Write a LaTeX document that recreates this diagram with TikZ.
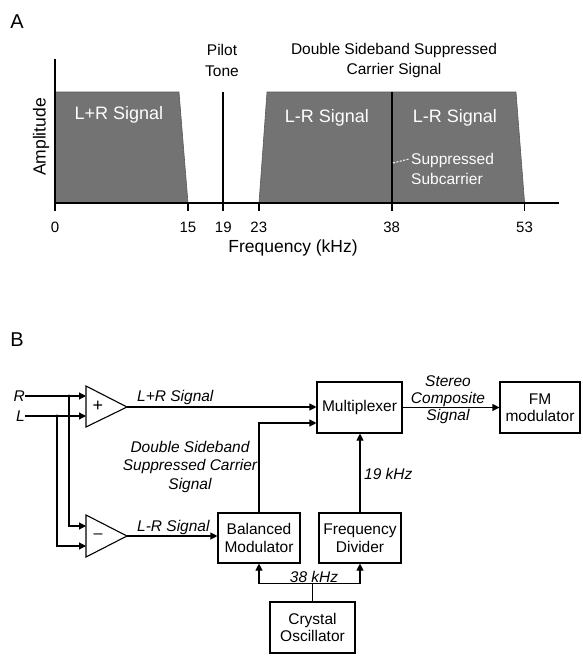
\documentclass[tikz,border=0pt]{standalone}
\usepackage{fontspec}
\setmainfont{Liberation Sans}
\usetikzlibrary{arrows.meta,calc}
\begin{document}
\begin{tikzpicture}[x=1pt,y=-1pt,
  lab/.style={inner sep=0pt, font=\fontsize{15.5}{17.5}\selectfont, align=center},
  ilab/.style={inner sep=0pt, font=\fontsize{15.5}{17.5}\selectfont\itshape, align=center},
  alab/.style={inner sep=0pt, font=\fontsize{15.5}{20.5}\selectfont, align=center},
  blabel/.style={inner sep=0pt, font=\fontsize{17.5}{20}\selectfont},
  ticklab/.style={inner sep=0pt, font=\fontsize{15}{17}\selectfont},
  wlab/.style={inner sep=0pt, text=white, font=\fontsize{18}{20}\selectfont},
  wsmall/.style={inner sep=0pt, text=white, font=\fontsize{15.5}{20.5}\selectfont, align=left},
  panel/.style={inner sep=0pt, font=\fontsize{20}{24}\selectfont},
  blk/.style={draw, line width=1.1pt, inner sep=0pt, font=\fontsize{15.5}{17.5}\selectfont, align=center},
  wire/.style={line width=1.1pt},
  arr/.style={line width=1.1pt, -{Triangle[length=7pt,width=7pt]}},
  band/.style={fill=black!55, draw=black!65, line width=0.6pt},
  axis/.style={line width=2.2pt},
  tone/.style={line width=2pt}
]
\useasboundingbox (0,0) rectangle (582,656);

% ---------------- Panel A ----------------
\node[panel] (labA) at (17,22) {A};
\draw[band] (55,203) -- (55,92) -- (179,92) -- (188,203) -- cycle;
\draw[band] (259,203) -- (267,92) -- (516,92) -- (524.6,203) -- cycle;
\draw[axis] (55,59) -- (55,203) -- (559,203);
\foreach \f in {0,15,19,23,38,53}{
  \draw[line width=1.8pt] ({55+8.86*\f},203) -- ({55+8.86*\f},211);
  \node[ticklab] at ({55+8.86*\f},227) {\f};
}
\draw[tone] (223.3,92) -- (223.3,203);
\draw[tone] (391.7,92) -- (391.7,203);
\draw[white, dashed, dash pattern=on 2pt off 1.5pt, line width=1pt] (393,163) -- (409,159);

\node[alab] (pilot) at (222,60.5) {Pilot\\Tone};
\node[alab] (dsbA) at (394,60.5) {Double Sideband Suppressed\\Carrier Signal};
\node[blabel, rotate=90] (ampl) at (41,137) {Amplitude};
\node[blabel] (freq) at (293,248) {Frequency (kHz)};
\node[wlab] (lpr) at (119,115) {L+R Signal};
\node[wlab] (lmr1) at (327,118) {L-R Signal};
\node[wlab] (lmr2) at (455,118) {L-R Signal};
\node[wsmall, anchor=west] (supp) at (411,169) {Suppressed\\Subcarrier};

% ---------------- Panel B ----------------
\node[panel] (labB) at (17,340) {B};

\node[ilab, anchor=east] (Rl) at (25,396) {R};
\node[ilab, anchor=east] (Ll) at (25,416) {L};

% amplifiers
\coordinate (pA) at (86,386); \coordinate (pB) at (86,427); \coordinate (pT) at (127,407);
\coordinate (mA) at (86,515); \coordinate (mB) at (86,557); \coordinate (mT) at (127,536);
\draw[wire, line join=miter] (pA) -- (pT) -- (pB) -- cycle;
\draw[wire, line join=miter] (mA) -- (mT) -- (mB) -- cycle;
\node[inner sep=0pt, font=\fontsize{18}{20}\selectfont] (plus) at (98,406) {+};
\node[inner sep=0pt, font=\fontsize{16}{20}\selectfont] (minus) at (98,536) {–};

\coordinate (p1) at (86,396); \coordinate (p2) at (86,416);
\coordinate (m1) at (86,526); \coordinate (m2) at (86,546);
\coordinate (jR) at (69,396); \coordinate (jL) at (57,416);
\draw[arr] (Rl.east) -- (p1);
\draw[arr] (Ll.east) -- (p2);
\draw[arr] (jR) |- (m1);
\draw[arr] (jL) |- (m2);
\fill (jR) circle (1.6);
\fill (jL) circle (1.6);

% blocks
\node[blk, minimum width=85pt, minimum height=51pt] (Mux) at (359.5,407.5) {Multiplexer};
\node[blk, minimum width=80pt, minimum height=51pt] (FM) at (540,407.5) {FM\\modulator};
\node[blk, minimum width=82pt, minimum height=50pt] (BM) at (259,538) {Balanced\\Modulator};
\node[blk, minimum width=82pt, minimum height=50pt] (FD) at (360,538) {Frequency\\Divider};
\node[blk, minimum width=85pt, minimum height=51pt] (Cry) at (312.5,627.5) {Crystal\\Oscillator};

% connectors
\draw[arr] (pT) -- (pT -| Mux.west);
\draw[arr] (mT) -- (mT -| BM.west);
\draw[arr] (BM.north) |- ($(Mux.west)+(0,15.5)$);
\draw[arr] (FD.north) -- (FD.north |- Mux.south);
\draw[arr] (Mux.east) -- (FM.west);
\draw[wire] (Cry.north) -- ++(0,-18) coordinate (bus);
\draw[arr] (bus) -| (BM.south);
\draw[arr] (bus) -| (FD.south);

% labels
\node[ilab, anchor=west] (lprB) at (137,397) {L+R Signal};
\node[ilab, anchor=west] (lmrB) at (137,527) {L-R Signal};
\node[ilab, font=\fontsize{15.5}{18.5}\selectfont\itshape] (dsbB) at (190,466.5) {Double Sideband\\Suppressed Carrier\\Signal};
\node[ilab, font=\fontsize{15.5}{17}\selectfont\itshape] (stereo) at (448,400) {Stereo\\Composite\\Signal};
\node[ilab, anchor=west] (k19) at (364,474) {19 kHz};
\node[ilab] (k38) at (314,577) {38 kHz};
\end{tikzpicture}
\end{document}
